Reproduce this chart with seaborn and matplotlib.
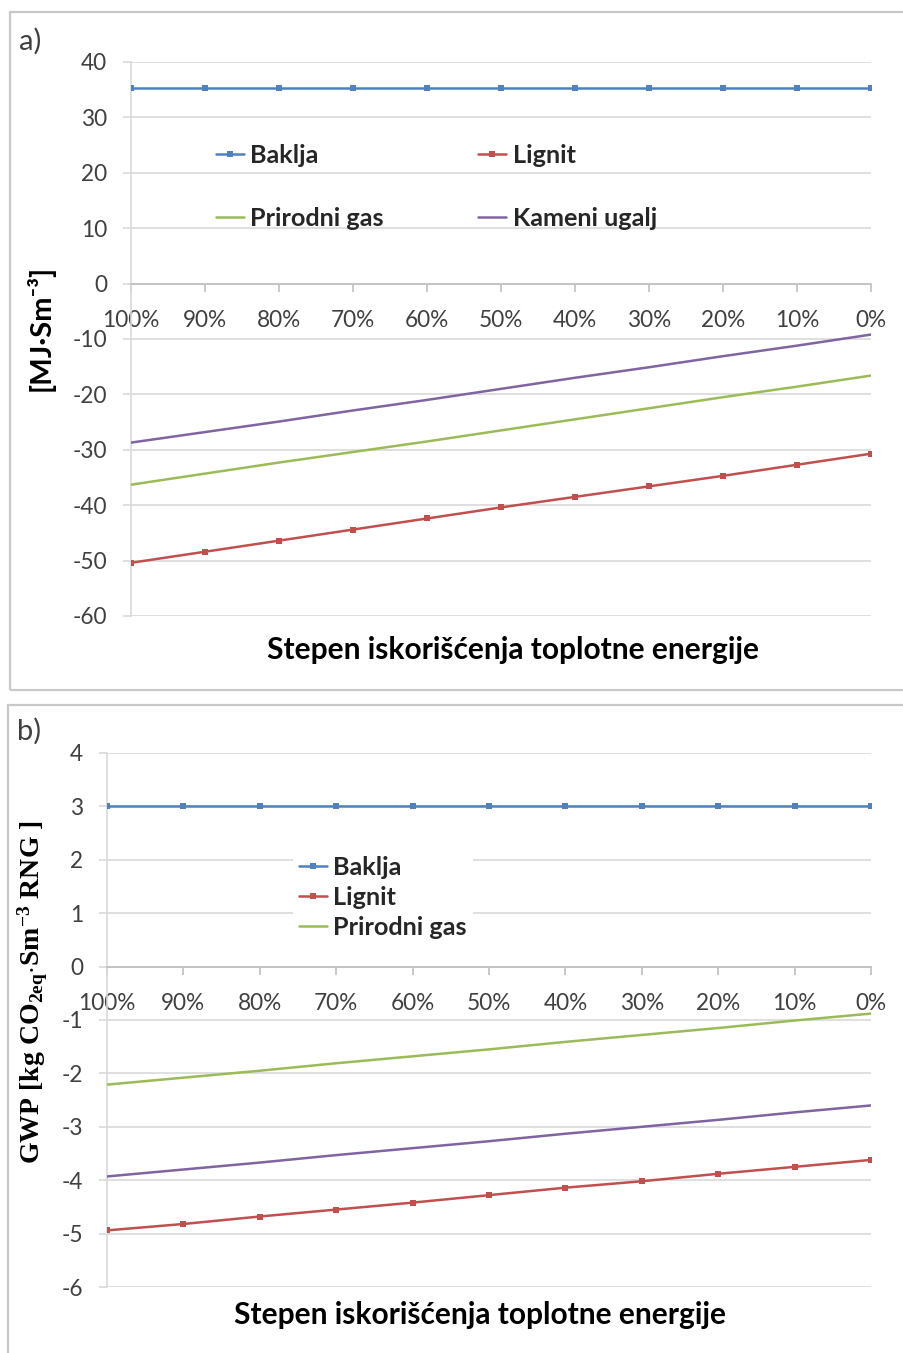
import numpy as np
import pandas as pd
import matplotlib
matplotlib.use("Agg")
import matplotlib.pyplot as plt
from matplotlib.patches import Rectangle
import seaborn as sns

# ---------------- data ----------------
categories = ["100%", "90%", "80%", "70%", "60%", "50%", "40%", "30%", "20%", "10%", "0%"]

# panel a) [MJ·Sm-3]
a_baklja = [35.3, 35.3, 35.3, 35.3, 35.3, 35.3, 35.3, 35.3, 35.3, 35.3, 35.3]
a_lignit = [-50.4, -48.4, -46.4, -44.4, -42.4, -40.4, -38.5, -36.6, -34.7, -32.7, -30.7]
a_gas = [-36.3, -34.3, -32.3, -30.4, -28.5, -26.5, -24.5, -22.5, -20.5, -18.6, -16.6]
a_ugalj = [-28.7, -26.8, -24.9, -22.9, -21.0, -19.0, -17.0, -15.1, -13.1, -11.2, -9.2]

# panel b) GWP [kg CO2eq·Sm-3 RNG]
b_baklja = [3.0, 3.0, 3.0, 3.0, 3.0, 3.0, 3.0, 3.0, 3.0, 3.0, 3.0]
b_lignit = [-4.94, -4.82, -4.68, -4.55, -4.42, -4.28, -4.14, -4.02, -3.88, -3.75, -3.62]
b_gas = [-2.21, -2.08, -1.95, -1.81, -1.68, -1.55, -1.41, -1.28, -1.15, -1.01, -0.88]
b_ugalj = [-3.93, -3.80, -3.67, -3.53, -3.40, -3.27, -3.13, -3.00, -2.87, -2.73, -2.60]

a_yticks = [40, 30, 20, 10, 0, -10, -20, -30, -40, -50, -60]
b_yticks = [4, 3, 2, 1, 0, -1, -2, -3, -4, -5, -6]

names = ["Baklja", "Lignit", "Prirodni gas", "Kameni ugalj"]
colors = {"Baklja": "#4f81bd", "Lignit": "#c0504d", "Prirodni gas": "#9bbb59", "Kameni ugalj": "#8064a2"}
markers = {"Baklja": "s", "Lignit": "s", "Prirodni gas": None, "Kameni ugalj": None}

# ---------------- style ----------------
sns.set_theme(style="white")
plt.rcParams["font.family"] = ["Lato", "DejaVu Sans"]
plt.rcParams["mathtext.fontset"] = "custom"
plt.rcParams["mathtext.rm"] = "Liberation Serif:bold"
plt.rcParams["mathtext.bf"] = "Liberation Serif:bold"
plt.rcParams["mathtext.it"] = "Liberation Serif:bold:italic"

W, H = 904, 1353
fig = plt.figure(figsize=(W / 100, H / 100), dpi=100)


def fx(px):
    return px / W


def fy(py):
    return 1 - py / H


GRID = "#d9d9d9"
TICKC = "#404040"


def make_panel(rect, series, yticks, ylim):
    ax = fig.add_axes(rect)
    x = np.arange(len(categories))
    for name, vals in series:
        sns.lineplot(x=x, y=vals, ax=ax, color=colors[name], marker=markers[name],
                     markersize=4.5, markeredgewidth=0, linewidth=1.8, label=name,
                     legend=False, zorder=3)
    ax.set_xlim(0, len(categories) - 1)
    ax.set_ylim(*ylim)
    ax.set_yticks(yticks)
    ax.set_yticklabels([str(t) for t in yticks])
    ax.set_xticks(x)
    ax.set_xticklabels(categories)
    ax.grid(axis="y", color=GRID, linewidth=1.2)
    ax.grid(axis="x", visible=False)
    for s in ["top", "right"]:
        ax.spines[s].set_visible(False)
    ax.spines["left"].set_color(GRID)
    ax.spines["left"].set_linewidth(1.2)
    ax.spines["bottom"].set_position(("data", 0))
    ax.spines["bottom"].set_color("#bfbfbf")
    ax.spines["bottom"].set_linewidth(1.2)
    ax.tick_params(axis="y", direction="out", length=6, width=1.2, color=GRID,
                   pad=11, labelsize=16.3, labelcolor=TICKC, left=True)
    ax.tick_params(axis="x", direction="out", length=6, width=1.2, color="#bfbfbf",
                   pad=13, labelsize=16.3, labelcolor=TICKC, bottom=True)
    ax.set_xlabel("")
    ax.set_ylabel("")
    ax.set_facecolor("none")
    return ax


# panel frames
fig.add_artist(Rectangle((fx(10), fy(690)), fx(920) - fx(10), fy(12) - fy(690),
                         transform=fig.transFigure, fill=False, edgecolor="#c8c8c8", linewidth=1.6))
fig.add_artist(Rectangle((fx(8), fy(1360)), fx(920) - fx(8), fy(705) - fy(1360),
                         transform=fig.transFigure, fill=False, edgecolor="#c8c8c8", linewidth=1.6))

# panel a
ax1 = make_panel([fx(131), fy(616), fx(871) - fx(131), fy(62) - fy(616)],
                 [("Baklja", a_baklja), ("Lignit", a_lignit), ("Prirodni gas", a_gas), ("Kameni ugalj", a_ugalj)],
                 a_yticks, (-60, 40))
h, l = ax1.get_legend_handles_labels()
order = [0, 2, 1, 3]
ax1.legend([h[i] for i in order], [l[i] for i in order], ncol=2, loc="upper left",
           bbox_to_anchor=(fx(216), fy(144)), bbox_transform=fig.transFigure,
           frameon=False, borderpad=0, borderaxespad=0, handlelength=1.1,
           handletextpad=0.25, columnspacing=3.75, labelspacing=1.58,
           prop={"weight": "bold", "size": 18.2})

# panel b
ax2 = make_panel([fx(107), fy(1287), fx(871) - fx(107), fy(753) - fy(1287)],
                 [("Baklja", b_baklja), ("Lignit", b_lignit), ("Prirodni gas", b_gas), ("Kameni ugalj", b_ugalj)],
                 b_yticks, (-6, 4))
h, l = ax2.get_legend_handles_labels()
leg2 = ax2.legend(h[:3], l[:3], ncol=1, loc="upper left",
                  bbox_to_anchor=(fx(293), fy(850)), bbox_transform=fig.transFigure,
                  frameon=True, facecolor="white", edgecolor="none", framealpha=1,
                  fancybox=False, borderpad=0.25, borderaxespad=0, handlelength=1.1,
                  handletextpad=0.25, labelspacing=0.27,
                  prop={"weight": "bold", "size": 18.2})
leg2.set_zorder(5)

# texts
fig.text(fx(19), fy(41), "a)", fontsize=21, color="#404040", ha="left", va="center")
fig.text(fx(17), fy(731), "b)", fontsize=21, color="#404040", ha="left", va="center")
fig.text(fx(513), fy(650), "Stepen iskorišćenja toplotne energije", fontsize=21.5,
         fontweight="bold", ha="center", va="center", color="black")
fig.text(fx(480), fy(1315), "Stepen iskorišćenja toplotne energije", fontsize=21.5,
         fontweight="bold", ha="center", va="center", color="black")
fig.text(fx(40), fy(328), "[MJ·Sm⁻³]", fontsize=21, fontweight="bold", rotation=90,
         ha="center", va="center", color="black", family=["Lato", "DejaVu Sans"])
fig.text(fx(33), fy(992), r"$\mathrm{GWP\ [kg\ CO_{2eq}{\cdot}Sm^{-3}\ RNG\ ]}$", fontsize=20,
         rotation=90, ha="center", va="center", color="black")

fig.savefig("out.png", dpi=100, facecolor="white")
